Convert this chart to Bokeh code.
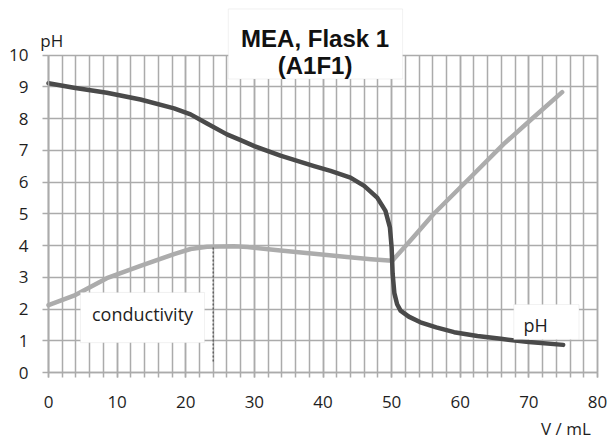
from bokeh.plotting import figure
from bokeh.models import Label, BoxAnnotation, SingleIntervalTicker, Range1d
from bokeh.embed import file_html
from bokeh.resources import INLINE

# pH titration curve (V / mL, pH)
ph_v = [0, 3.7, 8.5, 13.4, 18.3, 20.7, 23.1, 26, 28, 30, 33.8, 38.7, 41.1, 44, 46,
        47.9, 49.1, 49.75, 50, 50.15, 50.4, 50.8, 51.3, 52.5, 54.2, 56.5, 59.1, 62.5,
        65.9, 70, 75]
ph_val = [9.11, 8.97, 8.81, 8.6, 8.32, 8.13, 7.84, 7.5, 7.32, 7.13, 6.83, 6.5, 6.35,
          6.14, 5.88, 5.51, 5.09, 4.57, 3.94, 3.1, 2.5, 2.15, 1.95, 1.76, 1.58, 1.42,
          1.27, 1.15, 1.06, 0.96, 0.87]

# conductivity curve (arbitrary scale on same axis)
cond_v = [0, 3.7, 8.5, 13.4, 18.3, 20.7, 23.1, 27, 29, 33.8, 38.7, 43.5, 47, 50.1,
          53, 56.15, 61.5, 66.35, 70.7, 74.85]
cond_val = [2.12, 2.42, 2.97, 3.36, 3.73, 3.89, 3.96, 3.98, 3.95, 3.84, 3.74, 3.64,
            3.57, 3.52, 4.22, 5.0, 6.15, 7.2, 8.04, 8.83]

# dashed marker at the conductivity maximum
mark_v = [24, 24]
mark_y = [0.35, 3.96]

# axis extents
X_MIN, X_MAX = 0, 80
Y_MIN, Y_MAX = 0, 10

GRID = "#ababab"
FONT = "Open Sans"
TXT = "#1e1e1e"

W, H = 611, 439
# frame covers the whole canvas; data window chosen so that the axes sit where
# they do in the reference (x: 0 -> 48px, 80 -> 597px ; y: 0 -> 372px, 10 -> 54.5px)
sx = (597 - 48) / (X_MAX - X_MIN)
sy = (372 - 54.5) / (Y_MAX - Y_MIN)
x_range = Range1d(X_MIN - 48 / sx, X_MAX + (W - 597) / sx)
y_range = Range1d(Y_MIN - (H - 372) / sy, Y_MAX + 54.5 / sy)

p = figure(width=W, height=H, output_backend="svg", toolbar_location=None,
           x_range=x_range, y_range=y_range,
           min_border_left=0, min_border_right=0, min_border_top=0, min_border_bottom=0)
p.background_fill_color = "white"
p.border_fill_color = "white"
p.outline_line_color = None

p.xaxis.ticker = SingleIntervalTicker(interval=10, num_minor_ticks=5)
p.yaxis.ticker = SingleIntervalTicker(interval=1, num_minor_ticks=0)
p.xaxis.fixed_location = 0
p.yaxis.fixed_location = 0
p.xaxis.bounds = (X_MIN, X_MAX)
p.yaxis.bounds = (Y_MIN, Y_MAX)

for ax in (p.xaxis, p.yaxis):
    ax.axis_line_color = GRID
    ax.axis_line_width = 1.5
    ax.major_tick_line_color = GRID
    ax.major_tick_line_width = 1.5
    ax.minor_tick_line_color = GRID
    ax.minor_tick_line_width = 1.5
    ax.major_tick_in = 0
    ax.minor_tick_in = 0
    ax.major_label_text_font = FONT
    ax.major_label_text_font_size = "17px"
    ax.major_label_text_color = TXT
p.xaxis.major_tick_out = 5
p.xaxis.minor_tick_out = 5
p.xaxis.major_label_standoff = 18
p.yaxis.major_tick_out = 6
p.yaxis.minor_tick_out = 0
p.yaxis.major_label_standoff = 14

p.xgrid.grid_line_color = GRID
p.xgrid.grid_line_width = 1.5
p.xgrid.minor_grid_line_color = GRID
p.xgrid.minor_grid_line_width = 1.5
p.ygrid.grid_line_color = GRID
p.ygrid.grid_line_width = 1.5
p.xgrid.bounds = (X_MIN, X_MAX)
p.ygrid.bounds = (Y_MIN, Y_MAX)
p.xgrid.cross_bounds = (Y_MIN, Y_MAX)
p.ygrid.cross_bounds = (X_MIN, X_MAX)

p.line(cond_v, cond_val, line_color="#acacac", line_width=4.5, line_join="round", line_cap="round")
p.line(ph_v, ph_val, line_color="#4a4a4a", line_width=4.5, line_join="round", line_cap="round")
p.line(mark_v, mark_y, line_color="#555555", line_width=1.3, line_dash="2 2")

# label boxes
p.add_layout(BoxAnnotation(left=4.66, right=22.74, bottom=0.94, top=2.52,
                           fill_color="white", fill_alpha=1.0,
                           line_color="#cfcfcf", line_width=1))
p.add_layout(Label(x=13.7, y=1.85, text="conductivity", text_font=FONT,
                   text_font_size="18px", text_color=TXT,
                   text_align="center", text_baseline="middle"))
p.add_layout(BoxAnnotation(left=67.8, right=77.3, bottom=1.04, top=2.14,
                           fill_color="white", fill_alpha=1.0,
                           line_color="#cfcfcf", line_width=1))
p.add_layout(Label(x=69.2, y=1.5, text="pH", text_font=FONT,
                   text_font_size="18px", text_color=TXT,
                   text_align="left", text_baseline="middle"))

# axis titles
p.add_layout(Label(x=-1.2, y=10.45, text="pH", text_font=FONT,
                   text_font_size="17px", text_color=TXT,
                   text_align="left", text_baseline="middle"))
p.add_layout(Label(x=75.4, y=-1.75, text="V / mL", text_font=FONT,
                   text_font_size="17px", text_color=TXT,
                   text_align="center", text_baseline="middle"))

# title box
p.add_layout(BoxAnnotation(left=26.2, right=51.6, bottom=9.245, top=11.45,
                           fill_color="white", fill_alpha=1.0,
                           line_color="#d0d0d0", line_width=1))
p.add_layout(Label(x=38.85, y=10.53, text="MEA, Flask 1",
                   text_font="Liberation Sans", text_font_style="bold",
                   text_font_size="24px", text_color="#111111",
                   text_align="center", text_baseline="alphabetic"))
p.add_layout(Label(x=38.85, y=9.66, text="(A1F1)",
                   text_font="Liberation Sans", text_font_style="bold",
                   text_font_size="24px", text_color="#111111",
                   text_align="center", text_baseline="alphabetic"))

open("out.html", "w").write(file_html(p, INLINE))
